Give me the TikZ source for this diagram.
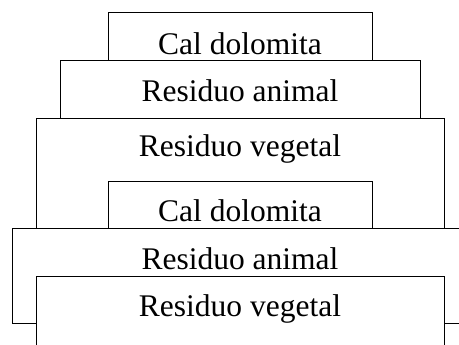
\documentclass[tikz,border=0pt]{standalone}
\usepackage{fontspec}
\setmainfont{Liberation Serif}
\begin{document}
\begin{tikzpicture}[x=1pt,y=-1pt,
  layer/.style={draw=black,fill=white,line width=1pt},
  lbl/.style={anchor=base,inner sep=0pt,font=\fontsize{31.5}{36}\selectfont}]
\useasboundingbox (0,0) rectangle (459,345);
\clip (0,0) rectangle (459,345);
% upper stack
\draw[layer] (108,13) rectangle (372,61);
\draw[layer] (60,61) rectangle (420,119);
\draw[layer] (36,119) rectangle (444,260);
\node[lbl] (c1) at (240,54.5) {Cal dolomita};
\node[lbl] (a1) at (240,101.5) {Residuo animal};
\node[lbl] (v1) at (240,157) {Residuo vegetal};
% lower stack
\draw[layer] (108,182) rectangle (372,229);
\node[lbl] (c2) at (240,222) {Cal dolomita};
\draw[layer] (12,229) rectangle (480,324);
\node[lbl] (a2) at (240,270) {Residuo animal};
\draw[layer] (36,277) rectangle (444,370);
\node[lbl] (v2) at (240,317) {Residuo vegetal};
\end{tikzpicture}
\end{document}
